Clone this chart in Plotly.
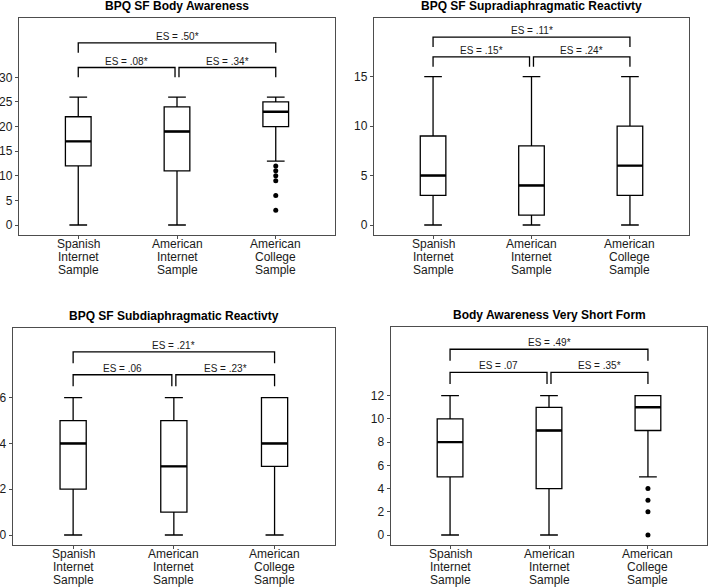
import plotly.graph_objects as go

W, H = 709, 588

categories = ["Spanish\nInternet\nSample", "American\nInternet\nSample", "American\nCollege\nSample"]
cat_pos = [0, 1, 2]

titles = ["BPQ SF Body Awareness", "BPQ SF Supradiaphragmatic Reactivty",
          "BPQ SF Subdiaphragmatic Reactivty", "Body Awareness Very Short Form"]

# box statistics per panel: [Spanish, American Internet, American College]
p1_low = [0, 0, 13]; p1_q1 = [12, 11, 20]; p1_med = [17, 19, 23]; p1_q3 = [22, 24, 25]; p1_up = [26, 26, 26]
p2_low = [0, 0, 0];  p2_q1 = [3, 1, 3];    p2_med = [5, 4, 6];    p2_q3 = [9, 8, 10];   p2_up = [15, 15, 15]
p3_low = [0, 0, 0];  p3_q1 = [2, 1, 3];    p3_med = [4, 3, 4];    p3_q3 = [5, 5, 6];    p3_up = [6, 6, 6]
p4_low = [0, 0, 5];  p4_q1 = [5, 4, 9];    p4_med = [8, 9, 11];   p4_q3 = [10, 11, 12]; p4_up = [12, 12, 12]

# outliers (American College Sample only)
p1_outliers = [12, 11, 10, 9, 6, 3]
p2_outliers = []
p3_outliers = []
p4_outliers = [4, 3, 2, 0]

# effect sizes: [Spanish vs Am. Internet, Am. Internet vs College, Spanish vs College]
p1_es = ["ES = .08*", "ES = .34*", "ES = .50*"]
p2_es = ["ES = .15*", "ES = .24*", "ES = .11*"]
p3_es = ["ES = .06", "ES = .23*", "ES = .21*"]
p4_es = ["ES = .07", "ES = .35*", "ES = .49*"]

# bracket levels: (lower leg bottom, lower bar, upper leg bottom, upper bar)
p1_br = [30, 32, 35, 37]
p2_br = [16, 17, 18, 19]
p3_br = [6.5, 7, 7.5, 8]
p4_br = [13, 14, 15, 16]

p1_ticks = [0, 5, 10, 15, 20, 25, 30]
p2_ticks = [0, 5, 10, 15]
p3_ticks = [0, 2, 4, 6]
p4_ticks = [0, 2, 4, 6, 8, 10, 12]

panels = [
    dict(low=p1_low, q1=p1_q1, med=p1_med, q3=p1_q3, up=p1_up, out=p1_outliers, es=p1_es, br=p1_br,
         ticks=p1_ticks, yr=[-2.03, 42.0], px=(19, 335), py=(18.3, 235)),
    dict(low=p2_low, q1=p2_q1, med=p2_med, q3=p2_q3, up=p2_up, out=p2_outliers, es=p2_es, br=p2_br,
         ticks=p2_ticks, yr=[-1.01, 20.9], px=(374, 689), py=(18.3, 235)),
    dict(low=p3_low, q1=p3_q1, med=p3_med, q3=p3_q3, up=p3_up, out=p3_outliers, es=p3_es, br=p3_br,
         ticks=p3_ticks, yr=[-0.437, 9.03], px=(12.7, 335), py=(328.3, 545)),
    dict(low=p4_low, q1=p4_q1, med=p4_med, q3=p4_q3, up=p4_up, out=p4_outliers, es=p4_es, br=p4_br,
         ticks=p4_ticks, yr=[-0.86, 17.89], px=(390.7, 707.3), py=(327.3, 545)),
]

BOXW = 0.26
GAP = 0.02
FONT = "Liberation Sans, Arial, sans-serif"
FRAME = "#4d4d4d"
LABEL_OFFSETS = [9, 22, 34.8]  # px below the panel bottom for each label line

fig = go.Figure()
annotations = []
layout = {}

for i, p in enumerate(panels):
    n = "" if i == 0 else str(i + 1)
    xa, ya = "x" + n, "y" + n
    x0, x1 = p["px"]
    y0, y1 = p["py"]
    # boxes
    fig.add_trace(go.Box(
        x=cat_pos, q1=p["q1"], median=p["med"], q3=p["q3"],
        lowerfence=p["low"], upperfence=p["up"],
        width=BOXW, whiskerwidth=0.69, boxpoints=False,
        fillcolor="white", line=dict(color="black", width=1.3),
        xaxis=xa, yaxis=ya, showlegend=False, hoverinfo="skip"))
    # thicker median lines
    mx, my = [], []
    for c, m in zip(cat_pos, p["med"]):
        mx += [c - BOXW / 2, c + BOXW / 2, None]
        my += [m, m, None]
    fig.add_trace(go.Scatter(x=mx, y=my, mode="lines", line=dict(color="black", width=2.4),
                             xaxis=xa, yaxis=ya, showlegend=False, hoverinfo="skip"))
    # outliers
    if p["out"]:
        fig.add_trace(go.Scatter(x=[cat_pos[2]] * len(p["out"]), y=p["out"], mode="markers",
                                 marker=dict(color="black", size=5),
                                 xaxis=xa, yaxis=ya, showlegend=False, hoverinfo="skip"))
    # significance brackets
    lo0, lo1, up0, up1 = p["br"]
    pairs = [(cat_pos[0], cat_pos[1] - GAP, lo0, lo1),
             (cat_pos[1] + GAP, cat_pos[2], lo0, lo1),
             (cat_pos[0], cat_pos[2], up0, up1)]
    bx, by = [], []
    for (xs, xe, b0, b1), lab in zip(pairs, p["es"]):
        bx += [xs, xs, xe, xe, None]
        by += [b0, b1, b1, b0, None]
        annotations.append(dict(x=(xs + xe) / 2, y=b1, xref=xa, yref=ya, text=lab, showarrow=False,
                                yanchor="bottom", yshift=-1,
                                font=dict(family=FONT, size=10, color="#1a1a1a")))
    fig.add_trace(go.Scatter(x=bx, y=by, mode="lines", line=dict(color="black", width=1.3),
                             xaxis=xa, yaxis=ya, showlegend=False, hoverinfo="skip"))

    # category labels (one line each, tight line spacing)
    for c, lab in zip(cat_pos, categories):
        for off, line in zip(LABEL_OFFSETS, lab.split("\n")):
            annotations.append(dict(x=c, y=1 - (y1 + off) / H, xref=xa, yref="paper", text=line,
                                    showarrow=False, xanchor="center", yanchor="middle",
                                    font=dict(family=FONT, size=12, color="#1a1a1a")))

    axis_common = dict(showline=True, mirror=True, linecolor=FRAME, linewidth=1.3,
                       ticks="outside", ticklen=3, tickcolor=FRAME, tickwidth=1,
                       showgrid=False, zeroline=False,
                       tickfont=dict(family=FONT, size=12, color="#1a1a1a"))
    layout["xaxis" + n] = dict(domain=[x0 / W, x1 / W], range=[-0.6, 2.6], tickvals=cat_pos,
                               showticklabels=False, anchor=ya, **axis_common)
    layout["yaxis" + n] = dict(domain=[1 - y1 / H, 1 - y0 / H], range=p["yr"], tickvals=p["ticks"],
                               anchor=xa, **axis_common)
    # title
    annotations.append(dict(x=(x0 + x1) / 2 / W, y=1 - (y0 - 12) / H, xref="paper", yref="paper",
                            text="<b>" + titles[i] + "</b>", showarrow=False,
                            xanchor="center", yanchor="middle",
                            font=dict(family=FONT, size=12, color="black")))

fig.update_layout(width=W, height=H, margin=dict(l=0, r=0, t=0, b=0),
                  plot_bgcolor="white", paper_bgcolor="white",
                  annotations=annotations, **layout)

fig.write_html("out.html", config={"displayModeBar": False},
               post_script="document.body.style.margin='0';")
